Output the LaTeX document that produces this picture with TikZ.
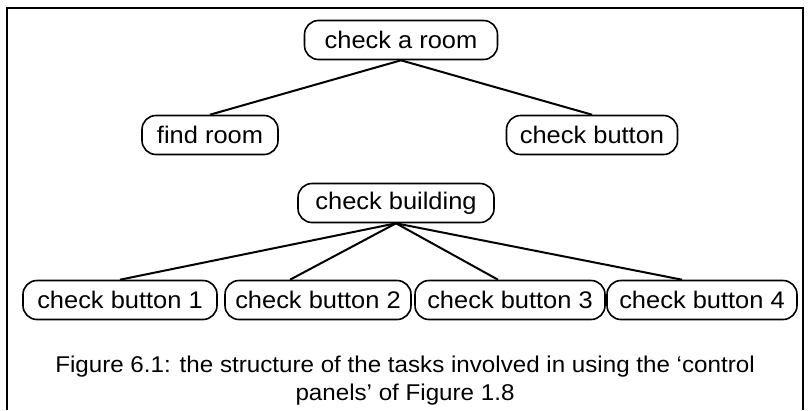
\documentclass[tikz,border=0pt]{standalone}
\usepackage{fontspec}
\setmainfont[FakeStretch=1.06]{Liberation Sans}
\usetikzlibrary{calc}

\begin{document}
\begin{tikzpicture}[
  x=1pt, y=-1pt,
  task/.style={draw, line width=1.6pt, rounded corners=14pt, minimum height=39pt, inner sep=0pt, font=\fontsize{24}{28}\selectfont},
  link/.style={line width=2pt},
  frame/.style={line width=1.5pt}
]
\useasboundingbox (0,0) rectangle (810,410);

% frame, open at the bottom
\draw[frame] (7,410) -- (7,8) -- (803,8) -- (803,410);

% first task tree
\node[task, minimum width=193pt] (room) at (401,40) {check a room};
\node[task, minimum width=136pt] (find) at (210,135) {find room};
\node[task, minimum width=171pt] (button) at (592,135) {check button};

\draw[link] (room.south) -- (find.north);
\draw[link] (room.south) -- (button.north);

% second task tree
\node[task, minimum width=196pt] (building) at (396,203) {check building};
\node[task, minimum width=194pt] (bone) at (120,300) {check button 1};
\node[task, minimum width=186pt] (btwo) at (318,300) {check button 2};
\node[task, minimum width=190pt] (bthree) at (510,300) {check button 3};
\node[task, minimum width=190pt] (bfour) at (702,300) {check button 4};

\draw[link] (building.south) -- (bone.north);
\draw[link] (building.south) -- ([xshift=-28pt]btwo.north);
\draw[link] (building.south) -- ([xshift=-12pt]bthree.north);
\draw[link] (building.south) -- ([xshift=-20pt]bfour.north);

% caption
\node[align=center, anchor=base, font=\fontsize{22.8}{28}\selectfont] (caption) at (405,400)
  {Figure 6.1: the structure of the tasks involved in using the ‘control\\panels’ of Figure 1.8};

\end{tikzpicture}
\end{document}
